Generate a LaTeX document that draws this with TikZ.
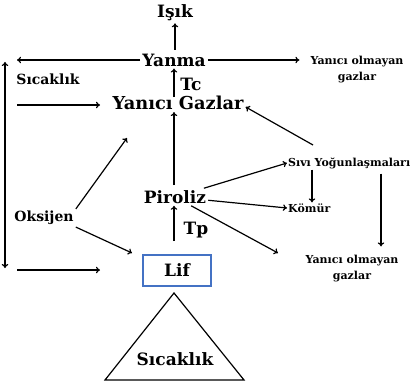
\documentclass[tikz,border=0pt]{standalone}
\usepackage{fontspec}
\setmainfont{DejaVu Serif}
\usetikzlibrary{arrows.meta}
\definecolor{boxblue}{HTML}{4472C4}
\begin{document}
\begin{tikzpicture}[x=1pt,y=-1pt,
  lbl/.style={font=\bfseries\fontsize{17}{19}\selectfont, inner sep=2pt},
  big/.style={font=\bfseries\fontsize{17.8}{19}\selectfont, inner sep=2pt},
  mid/.style={font=\bfseries\fontsize{14}{16}\selectfont, inner sep=2pt},
  sml/.style={font=\bfseries\fontsize{11}{16}\selectfont, inner sep=2pt, align=center},
  arr/.style={-{To[length=4pt,width=6.5pt]}, line width=1.2pt},
  dbl/.style={{To[length=4pt,width=6.5pt]}-{To[length=4pt,width=6.5pt]}, line width=1.2pt}]
\useasboundingbox (0,0) rectangle (419,385);

% main chain
\node[lbl] (isik) at (175,13) {Işık};
\node[lbl] (yanma) at (174,60) {Yanma};
\node[big] (gaz) at (178,103) {Yanıcı Gazlar};
\node[lbl] (piroliz) at (175,197) {Piroliz};
\node[lbl] (tc) at (191,84) {Tc};
\node[lbl] (tp) at (196,230) {Tp};
\node[mid] (sic1) at (48,79) {Sıcaklık};
\node[mid] (oks) at (44,218) {Oksijen};
\node[lbl, draw=boxblue, line width=1.2pt, minimum width=68pt, minimum height=31pt] (lif) at (177,270.5) {Lif};

% side products
\node[sml] (ng1) at (357,70) {Yanıcı olmayan\\gazlar};
\node[sml, anchor=west, inner sep=1pt] (sivi) at (287,163) {Sıvı Yoğunlaşmaları};
\node[sml, anchor=west, inner sep=1pt] (komur) at (287,208) {Kömür};
\node[sml] (ng2) at (352,269) {Yanıcı olmayan\\gazlar};

% heat source triangle
\coordinate (ta) at (174,293);
\coordinate (tl) at (105,380);
\coordinate (tr) at (244,380);
\draw[line width=1.2pt, line join=miter] (ta) -- (tl) -- (tr) -- cycle;
\node[lbl] (sic2) at (175,359) {Sıcaklık};

% free ends of the connectors
\coordinate (ib) at (175,50);
\coordinate (tcb) at (174,97);
\coordinate (pt) at (174,185);
\coordinate (tpb) at (174,241);
\coordinate (hl) at (17,60);
\coordinate (g1) at (17,105);
\coordinate (g2) at (100,105);
\coordinate (l1) at (17,270);
\coordinate (l2) at (100,270);
\coordinate (vt) at (5,62);
\coordinate (vb) at (5,268);
\coordinate (o1) at (127,138);
\coordinate (o2) at (132,253);
\coordinate (p3) at (278,253);
\coordinate (sv) at (313,145);

% connectors
\draw[arr] (ib) -- (isik.south -| ib);
\draw[arr] (tcb) -- (yanma.south -| tcb);
\draw[arr] (pt) -- (gaz.south -| pt);
\draw[arr] (tpb) -- (piroliz.south -| tpb);
\draw[arr] (yanma.west) -- (hl);
\draw[arr] (yanma.east) -- ([xshift=-9pt]ng1.west |- yanma.east);
\draw[arr] (g1) -- (g2);
\draw[arr] (l1) -- (l2);
\draw[dbl] (vt) -- (vb);
\draw[arr] (oks.north east) -- (o1);
\draw[arr] (oks.south east) -- (o2);
\draw[arr] (piroliz) -- (sivi.west);
\draw[arr] (piroliz) -- (komur.west);
\draw[arr] (piroliz) -- (p3);
\draw[arr] (sv) -- ([yshift=-4pt]gaz.east);
\draw[arr] ([xshift=25pt]sivi.south west) -- ([xshift=25pt]komur.north west);
\draw[arr] ([xshift=94pt,yshift=-4pt]sivi.south west) -- ([xshift=94pt,yshift=7pt]sivi.south west |- ng2.north);
\end{tikzpicture}
\end{document}
